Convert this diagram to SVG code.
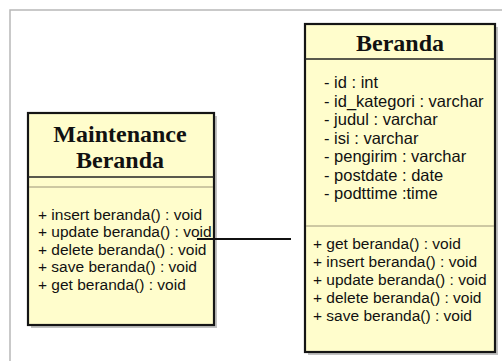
<svg xmlns="http://www.w3.org/2000/svg" width="502" height="361" viewBox="0 0 502 361">
<style>
.frame{stroke:#b8b8b8;stroke-width:1.5;fill:none}
.shadow{fill:#9a9a9a;opacity:0.6}
.box{fill:#fffdcc;stroke:#151515;stroke-width:2.2}
.hdiv{stroke:#222;stroke-width:1.5}
.sdiv{stroke:#9c9479;stroke-width:1}
.title{font-family:"Liberation Serif","Times New Roman",serif;font-weight:bold;font-size:24px;fill:#111;text-anchor:middle}
.attr{font-family:"Liberation Sans",Arial,sans-serif;font-size:16.5px;fill:#111}
.meth{font-family:"Liberation Sans",Arial,sans-serif;font-size:15.5px;fill:#111}
.conn{stroke:#111;stroke-width:2;fill:none}
</style>
<rect x="0" y="0" width="502" height="361" fill="#fff"/>
<path class="frame" d="M10,361 V10 H502"/>
<g id="maintenance-beranda">
<rect class="shadow" x="31" y="116" width="186" height="212"/>
<rect class="box" x="28" y="113" width="186" height="212"/>
<line class="hdiv" x1="28" y1="177" x2="214" y2="177"/>
<line class="sdiv" x1="29" y1="187" x2="213" y2="187"/>
<text class="title" x="120" y="142">Maintenance</text>
<text class="title" x="120" y="168">Beranda</text>
<text class="meth" x="38" y="219.5">+ insert beranda() : void</text>
<text class="meth" x="38" y="237">+ update beranda() : void</text>
<text class="meth" x="38" y="254.5">+ delete beranda() : void</text>
<text class="meth" x="38" y="272">+ save beranda() : void</text>
<text class="meth" x="38" y="289.5">+ get beranda() : void</text>
</g>
<g id="beranda">
<rect class="shadow" x="308" y="27" width="190" height="328"/>
<rect class="box" x="305" y="24" width="190" height="328"/>
<line class="hdiv" x1="305" y1="59" x2="495" y2="59"/>
<text class="title" x="400" y="51">Beranda</text>
<text class="attr" x="324" y="88">- id : int</text>
<text class="attr" x="324" y="106.5">- id_kategori : varchar</text>
<text class="attr" x="324" y="125">- judul : varchar</text>
<text class="attr" x="324" y="143.5">- isi : varchar</text>
<text class="attr" x="324" y="162">- pengirim : varchar</text>
<text class="attr" x="324" y="180.5">- postdate : date</text>
<text class="attr" x="324" y="199">- podttime :time</text>
<line class="sdiv" x1="306" y1="226" x2="494" y2="226"/>
<text class="meth" x="313" y="249">+ get beranda() : void</text>
<text class="meth" x="313" y="267">+ insert beranda() : void</text>
<text class="meth" x="313" y="285">+ update beranda() : void</text>
<text class="meth" x="313" y="303">+ delete beranda() : void</text>
<text class="meth" x="313" y="321">+ save beranda() : void</text>
</g>
<g id="connectors">
<line class="conn" x1="197" y1="239" x2="291" y2="239"/>
</g>
</svg>
